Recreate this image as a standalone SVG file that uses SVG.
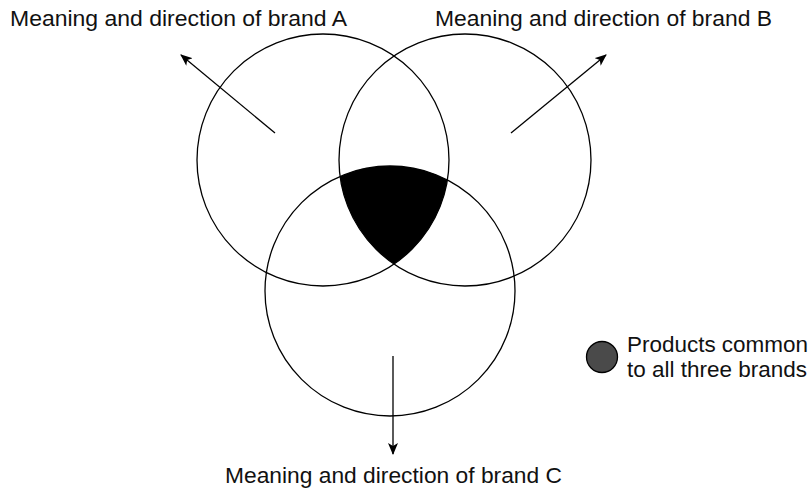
<svg xmlns="http://www.w3.org/2000/svg" width="811" height="488" viewBox="0 0 811 488">
  <style>
    .ring { fill: none; stroke: #000; stroke-width: 1.3; }
    .lbl { font-family: "Liberation Sans", Arial, Helvetica, sans-serif; font-size: 21.5px; fill: #111; }
    .arrow { stroke: #000; stroke-width: 1.3; fill: none; marker-end: url(#head); }
  </style>
  <defs>
    <marker id="head" viewBox="0 0 12 10" refX="11" refY="5" markerWidth="12" markerHeight="10" markerUnits="userSpaceOnUse" orient="auto">
      <path d="M0,0 L12,5 L0,10 L3,5 Z" fill="#000"/>
    </marker>
  </defs>
  <rect width="811" height="488" fill="#fff"/>

  <g id="brand-a">
    <circle class="ring" cx="323" cy="160" r="126"/>
    <text class="lbl" x="10" y="26" textLength="337" lengthAdjust="spacingAndGlyphs">Meaning and direction of brand A</text>
  </g>
  <g id="brand-b">
    <circle class="ring" cx="465" cy="160" r="126"/>
    <text class="lbl" x="435" y="26" textLength="337" lengthAdjust="spacingAndGlyphs">Meaning and direction of brand B</text>
  </g>
  <g id="brand-c">
    <circle class="ring" cx="390" cy="291" r="125"/>
    <text class="lbl" x="225" y="483" textLength="337" lengthAdjust="spacingAndGlyphs">Meaning and direction of brand C</text>
  </g>
  <g id="common">
    <path d="M340.08,176.41 A125,125 0 0 1 447.42,179.96 A126,126 0 0 1 394,264.09 A126,126 0 0 1 340.08,176.41 Z" fill="#000"/>
  </g>
  <g id="legend">
    <circle cx="602" cy="357" r="15.5" fill="#4a4a4a" stroke="#000" stroke-width="1.3"/>
    <text class="lbl" x="627" y="352" textLength="181" lengthAdjust="spacingAndGlyphs">Products common</text>
    <text class="lbl" x="627" y="377" textLength="180" lengthAdjust="spacingAndGlyphs">to all three brands</text>
  </g>

  <g id="connectors">
    <line class="arrow" x1="275" y1="133" x2="181" y2="55"/>
    <line class="arrow" x1="511" y1="133" x2="606" y2="55"/>
    <line class="arrow" x1="393" y1="356" x2="393" y2="454"/>
  </g>
</svg>
